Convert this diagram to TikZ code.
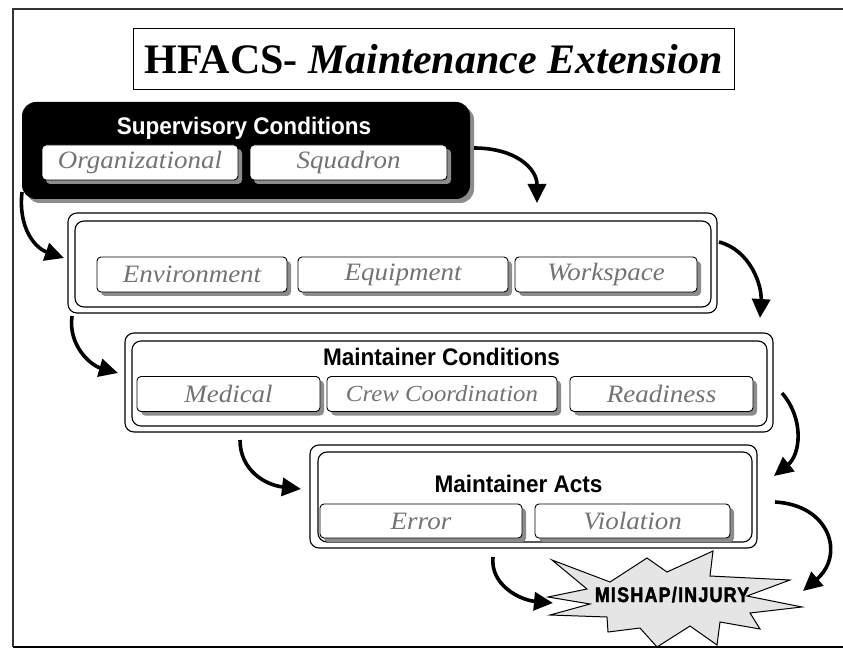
\documentclass[tikz,border=0pt]{standalone}
\usepackage{fontspec}
\setmainfont{Liberation Serif}
\setsansfont{Liberation Sans}
\newfontfamily\headfont[FakeStretch=0.94]{Liberation Sans}
\newfontfamily\subfont[FakeStretch=1.08]{Liberation Serif}
\newfontfamily\bangfont[FakeStretch=0.85,FakeBold=2,LetterSpace=6]{Liberation Sans}
\usetikzlibrary{arrows.meta,shadows}
\tikzset{
  frameline/.style={draw=black!80, line width=1.2pt},
  subbox/.style={draw=black, line width=0.9pt, fill=white, rounded corners=4pt,
    minimum height=35pt, inner sep=0pt,
    drop shadow={shadow xshift=4pt, shadow yshift=-4pt, fill=black!45, opacity=1},
    font=\subfont\itshape\fontsize{25}{25}\selectfont, text=black!55},
  layerbox/.style={draw=black, line width=1.1pt, fill=white, rounded corners=9pt},
  heading/.style={font=\headfont\bfseries\fontsize{24}{24}\selectfont, anchor=base, inner sep=0pt},
  flow/.style={line width=3.6pt, -{Triangle[length=19pt,width=18pt]}},
}
\begin{document}
\begin{tikzpicture}[x=1pt,y=-1pt]
\useasboundingbox (0,0) rectangle (843,652);
% frame
\draw[frameline] (13,647) -- (13,9) -- (843,9);
\draw[draw=black, line width=2.6pt] (13,647) -- (843,647);

% title
\node[draw=black, line width=1pt, minimum width=601pt, minimum height=61pt, inner sep=0pt,
      font=\fontsize{42}{42}\selectfont] (title) at (433.5,59.5)
      {\bfseries HFACS- \itshape Maintenance Extension};

% supervisory conditions
\fill[black!45, rounded corners=14pt] (26,106) rectangle (474,203);
\node[fill=black, rounded corners=14pt, minimum width=448pt, minimum height=97pt, inner sep=0pt] (sup) at (246,150.5) {};
\node[heading, text=white] (suptitle) at (244,135) {Supervisory Conditions};
\node[subbox, minimum width=196pt] (org) at (140,162.5) {Organizational};
\node[subbox, minimum width=197pt] (sqd) at (348.5,162.5) {Squadron};

% second layer
\draw[layerbox] (68,213) rectangle (717,313);
\draw[layerbox] (75,221) rectangle (711,307);
\node[minimum width=636pt, minimum height=86pt, inner sep=0pt] (envlayer) at (393,264) {};
\node[subbox, minimum width=190pt] (env) at (192,274.5) {Environment};
\node[subbox, minimum width=210pt] (equ) at (403,274.5) {Equipment};
\node[subbox, minimum width=182pt] (wsp) at (606,274.5) {Workspace};

% maintainer conditions
\draw[layerbox] (125,333) rectangle (773,432);
\draw[layerbox] (132,341) rectangle (767,426);
\node[minimum width=635pt, minimum height=85pt, inner sep=0pt] (mc) at (449.5,383.5) {};
\node[heading] (mctitle) at (441.5,365) {Maintainer Conditions};
\node[subbox, minimum width=183pt] (med) at (228.5,394) {Medical};
\node[subbox, minimum width=230pt, font=\subfont\itshape\fontsize{23}{23}\selectfont] (crew) at (442,394) {Crew Coordination};
\node[subbox, minimum width=183pt] (rdy) at (661.5,394) {Readiness};

% maintainer acts
\draw[layerbox] (310,445) rectangle (757,548);
\draw[layerbox] (318,452) rectangle (752,542);
\node[minimum width=434pt, minimum height=90pt, inner sep=0pt] (ma) at (535,497) {};
\node[heading] (matitle) at (518.5,492) {Maintainer Acts};
\node[subbox, minimum width=202pt, minimum height=34pt] (err) at (421,521) {Error};
\node[subbox, minimum width=195pt, minimum height=34pt] (vio) at (632.5,521) {Violation};

% mishap starburst
\draw[line width=1pt, fill=black!10, line join=miter]
  (552,560) -- (610,582) -- (647,558) -- (667,572) -- (713,551) -- (710,576)
  -- (790,580) -- (747,596) -- (802,607) -- (750,613) -- (760,629) -- (720,622)
  -- (717,645) -- (690,626) -- (657,647) -- (640,628) -- (608,632) -- (607,617)
  -- (550,615) -- (590,604) -- (548,597) -- (587,589) -- cycle;
\node[font=\bangfont\bfseries\fontsize{21}{21}\selectfont, inner sep=0pt, anchor=base] (mishap) at (672,602) {MISHAP/INJURY};

% connector ends
\coordinate (a1s) at (474,148);  \coordinate (a1e) at (537,203);
\coordinate (a2s) at (22,192);   \coordinate (a2e) at (64,258);
\coordinate (a3s) at (719,242);  \coordinate (a3e) at (760,318);
\coordinate (a4s) at (72,316);   \coordinate (a4e) at (118,373);
\coordinate (a5s) at (240,440);  \coordinate (a5e) at (301,489);
\coordinate (a6s) at (782,393);  \coordinate (a6e) at (774,476);
\coordinate (a7s) at (493,557);  \coordinate (a7e) at (553,603);
\coordinate (a8s) at (775,502);  \coordinate (a8e) at (803,591);

\draw[flow] (a1s) .. controls (515,148) and (537,168) .. (a1e);
\draw[flow] (a2s) .. controls (18,228) and (35,248) .. (a2e);
\draw[flow] (a3s) .. controls (750,250) and (762,285) .. (a3e);
\draw[flow] (a4s) .. controls (68,345) and (90,365) .. (a4e);
\draw[flow] (a5s) .. controls (240,470) and (265,485) .. (a5e);
\draw[flow] (a6s) .. controls (805,420) and (800,455) .. (a6e);
\draw[flow] (a7s) .. controls (490,585) and (520,600) .. (a7e);
\draw[flow] (a8s) .. controls (830,505) and (845,555) .. (a8e);
\end{tikzpicture}
\end{document}
